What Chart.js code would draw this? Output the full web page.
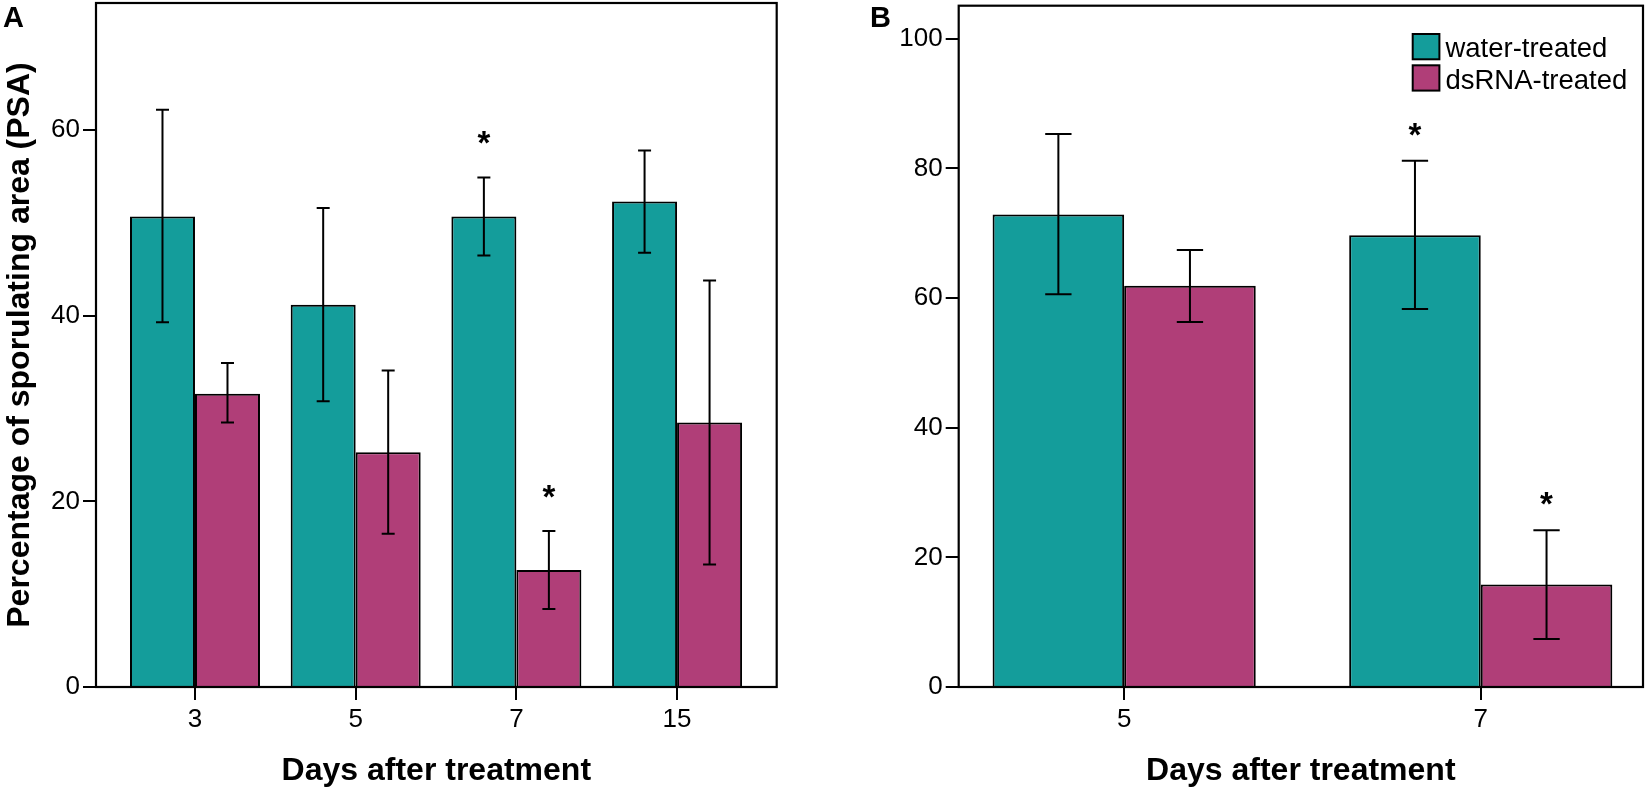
<!DOCTYPE html>
<html>
<head>
<meta charset="utf-8">
<script src="https://cdn.jsdelivr.net/npm/chart.js@4.4.1/dist/chart.umd.min.js"></script>
<style>
html,body{margin:0;padding:0;background:#fff;width:1650px;height:793px;overflow:hidden}
canvas{position:absolute;top:0}
</style>
</head>
<body>
<canvas id="cA" width="800" height="793" style="left:0px"></canvas>
<canvas id="cB" width="810" height="793" style="left:840px"></canvas>
<script>
// ---------- data ----------
const seriesNames = ['water-treated', 'dsRNA-treated'];
const seriesColors = ['#149d9b', '#b03e78'];

// Panel A
const daysA = ['3', '5', '7', '15'];
const waterA = [50.7, 41.2, 50.7, 52.3];
const waterAHi = [62.2, 51.6, 54.9, 57.8];
const waterALo = [39.3, 30.8, 46.5, 46.8];
const dsA = [31.6, 25.3, 12.6, 28.5];
const dsAHi = [34.9, 34.1, 16.8, 43.8];
const dsALo = [28.5, 16.5, 8.4, 13.2];
const sigWaterA = [false, false, true, false];
const sigDsA = [false, false, true, false];
const yTicksA = [0, 20, 40, 60];

// Panel B
const daysB = ['5', '7'];
const waterB = [72.9, 69.7];
const waterBHi = [85.3, 81.2];
const waterBLo = [60.6, 58.3];
const dsB = [61.9, 15.8];
const dsBHi = [67.4, 24.2];
const dsBLo = [56.3, 7.4];
const sigWaterB = [false, true];
const sigDsB = [false, true];
const yTicksB = [0, 20, 40, 60, 80, 100];

const FONT = '"Liberation Sans", Arial, sans-serif';
Chart.defaults.font.family = FONT;
Chart.defaults.color = '#000';

const panelPlugin = {
  id: 'panel',
  afterDatasetsDraw(chart, args, opts) {
    const ctx = chart.ctx;
    const ys = chart.scales.y;
    chart.data.datasets.forEach((ds, di) => {
      const meta = chart.getDatasetMeta(di);
      meta.data.forEach((bar, i) => {
        const hi = ys.getPixelForValue(ds.errHi[i]);
        const lo = ys.getPixelForValue(ds.errLo[i]);
        const cap = bar.width * 0.2;
        ctx.save();
        ctx.strokeStyle = '#000';
        ctx.lineWidth = 2;
        ctx.beginPath();
        ctx.moveTo(bar.x, hi); ctx.lineTo(bar.x, lo);
        ctx.moveTo(bar.x - cap / 2, hi); ctx.lineTo(bar.x + cap / 2, hi);
        ctx.moveTo(bar.x - cap / 2, lo); ctx.lineTo(bar.x + cap / 2, lo);
        ctx.stroke();
        if (ds.sig[i]) {
          ctx.fillStyle = '#000';
          ctx.font = 'bold 33px ' + FONT;
          ctx.textAlign = 'center';
          ctx.textBaseline = 'alphabetic';
          ctx.fillText('*', bar.x, hi - opts.starGap);
        }
        ctx.restore();
      });
    });
  },
  afterDraw(chart, args, opts) {
    const ctx = chart.ctx;
    const a = chart.chartArea;
    ctx.save();
    ctx.strokeStyle = '#000';
    ctx.lineWidth = 2.2;
    ctx.strokeRect(a.left, a.top, a.right - a.left, a.bottom - a.top);
    // panel letter
    ctx.fillStyle = '#000';
    ctx.font = 'bold 29px ' + FONT;
    ctx.textAlign = 'left';
    ctx.textBaseline = 'alphabetic';
    ctx.fillText(opts.letter, opts.letterX, 27);
    // legend
    if (opts.legend) {
      const L = opts.legend;
      chart.data.datasets.forEach((ds, di) => {
        const by = L.y + di * L.step;
        ctx.fillStyle = ds.backgroundColor;
        ctx.fillRect(L.x, by, L.w, L.h);
        ctx.lineWidth = 2;
        ctx.strokeStyle = '#000';
        ctx.strokeRect(L.x, by, L.w, L.h);
        ctx.fillStyle = '#000';
        ctx.font = '27.5px ' + FONT;
        ctx.textAlign = 'left';
        ctx.textBaseline = 'alphabetic';
        ctx.fillText(ds.label, L.x + L.w + 6, by + L.h - 2);
      });
    }
    ctx.restore();
  }
};

function makePanel(id, cfg) {
  const mkData = (vals) => vals.map((v, i) => ({ x: i, y: v }));
  const gridOpts = { offset: false, drawOnChartArea: false, drawTicks: true, tickLength: 13, color: '#000', lineWidth: 2 };
  return new Chart(document.getElementById(id), {
    type: 'bar',
    data: {
      datasets: [
        { label: seriesNames[0], data: mkData(cfg.water), errHi: cfg.waterHi, errLo: cfg.waterLo, sig: cfg.sigWater,
          backgroundColor: seriesColors[0], borderColor: '#000', borderWidth: 2, borderSkipped: 'start',
          barPercentage: 1, categoryPercentage: cfg.catPct },
        { label: seriesNames[1], data: mkData(cfg.ds), errHi: cfg.dsHi, errLo: cfg.dsLo, sig: cfg.sigDs,
          backgroundColor: seriesColors[1], borderColor: '#000', borderWidth: 2, borderSkipped: 'start',
          barPercentage: 1, categoryPercentage: cfg.catPct }
      ]
    },
    options: {
      responsive: false,
      animation: false,
      devicePixelRatio: 1,
      layout: { padding: { top: cfg.padTop, right: cfg.padRight, bottom: 0, left: 0 } },
      plugins: {
        legend: { display: false },
        tooltip: { enabled: false },
        panel: { letter: cfg.letter, letterX: cfg.letterX, legend: cfg.legend, starGap: cfg.starGap }
      },
      scales: {
        x: {
          type: 'linear', min: cfg.xMin, max: cfg.xMax, offset: false,
          grid: gridOpts,
          border: { display: false },
          afterBuildTicks: (s) => { s.ticks = cfg.cats.map((c, i) => ({ value: i })); },
          ticks: { autoSkip: false, maxRotation: 0, padding: 4, font: { size: 26 }, color: '#000',
                   callback: (v) => cfg.cats[v] },
          title: { display: true, text: 'Days after treatment', color: '#000',
                   font: { size: 32, weight: 'bold' }, padding: { top: 0, bottom: 3 } },
          afterFit: (s) => { s.height = 106; s.paddingLeft = 0; s.paddingRight = 0; }
        },
        y: {
          type: 'linear', min: 0, max: cfg.yMax,
          grid: gridOpts,
          border: { display: false },
          afterBuildTicks: (s) => { s.ticks = cfg.yTicks.map((v) => ({ value: v })); },
          ticks: { padding: 3, font: { size: 26 }, color: '#000' },
          title: { display: !!cfg.yTitle, text: cfg.yTitle || '', color: '#000',
                   font: { size: 32, weight: 'bold' }, padding: { top: 1, bottom: 0 } },
          afterFit: (s) => { s.width = cfg.yWidth; s.paddingTop = 0; s.paddingBottom = 0; }
        }
      }
    },
    plugins: [panelPlugin]
  });
}

makePanel('cA', {
  cats: daysA, water: waterA, waterHi: waterAHi, waterLo: waterALo,
  ds: dsA, dsHi: dsAHi, dsLo: dsALo, sigWater: sigWaterA, sigDs: sigDsA,
  yTicks: yTicksA, yMax: 73.7, xMin: -0.616, xMax: 3.62, catPct: 0.809,
  yWidth: 96, padTop: 3, padRight: 23.3, letter: 'A', letterX: 3,
  yTitle: 'Percentage of sporulating area (PSA)', starGap: 23, legend: null
});

makePanel('cB', {
  cats: daysB, water: waterB, waterHi: waterBHi, waterLo: waterBLo,
  ds: dsB, dsHi: dsBHi, dsLo: dsBLo, sigWater: sigWaterB, sigDs: sigDsB,
  yTicks: yTicksB, yMax: 105.1, xMin: -0.464, xMax: 1.455, catPct: 0.738,
  yWidth: 118.7, padTop: 5.7, padRight: 7, letter: 'B', letterX: 30,
  yTitle: null, starGap: 15,
  legend: { x: 572.7, y: 34, w: 26.7, h: 25.3, step: 31.3 }
});
</script>
</body>
</html>
